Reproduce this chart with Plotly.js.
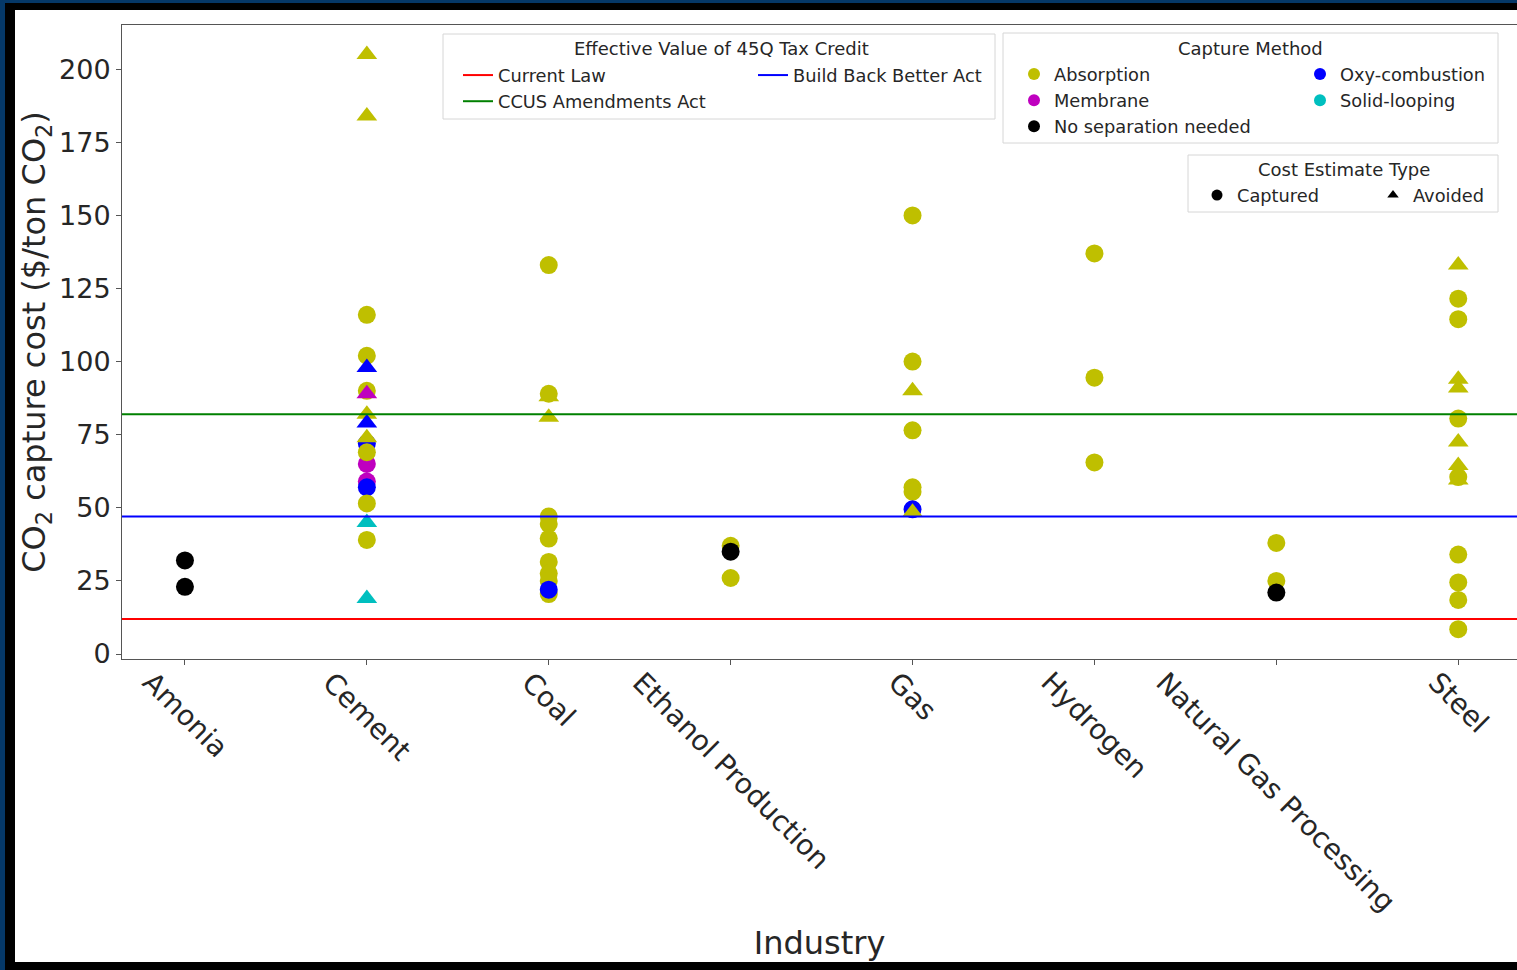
<!DOCTYPE html>
<html>
<head>
<meta charset="utf-8">
<script src="https://cdn.plot.ly/plotly-3.0.1.min.js"></script>
<style>
  html, body { margin: 0; padding: 0; width: 1517px; height: 970px; overflow: hidden; background: #053868; }
  #frame { position: absolute; left: 5px; top: 3px; width: 1512px; height: 967px; background: #000; }
  #chart { position: absolute; left: 15px; top: 10px; width: 1502px; height: 952px; background: #fff; }
</style>
</head>
<body>
<div id="frame"></div>
<div id="chart"></div>
<script>
// ---------------- data ----------------
const industries = ["Amonia", "Cement", "Coal", "Ethanol Production", "Gas", "Hydrogen", "Natural Gas Processing", "Steel"];

// one entry per plotted point (drawing order = array order)
const ptIndustry = [
  "Amonia", "Amonia",
  "Cement", "Cement", "Cement", "Cement", "Cement", "Cement", "Cement", "Cement", "Cement",
  "Cement", "Cement", "Cement", "Cement", "Cement", "Cement", "Cement", "Cement", "Cement", "Cement",
  "Coal", "Coal", "Coal", "Coal", "Coal", "Coal", "Coal", "Coal", "Coal", "Coal", "Coal", "Coal",
  "Ethanol Production", "Ethanol Production", "Ethanol Production",
  "Gas", "Gas", "Gas", "Gas", "Gas", "Gas", "Gas", "Gas",
  "Hydrogen", "Hydrogen", "Hydrogen",
  "Natural Gas Processing", "Natural Gas Processing", "Natural Gas Processing",
  "Steel", "Steel", "Steel", "Steel", "Steel", "Steel", "Steel", "Steel", "Steel", "Steel",
  "Steel", "Steel", "Steel", "Steel"
];
const ptValue = [
  32, 23,
  205, 184, 116, 102, 90, 98, 89, 82, 79,
  72, 65, 74, 69, 59, 57, 51.5, 45, 39, 19,
  133, 88, 89, 81, 47, 44.5, 39.5, 31.5, 27.5, 25, 20.5, 22,
  37, 26, 35,
  150, 100, 90, 76.5, 57, 55.5, 49.5, 48.5,
  137, 94.5, 65.5,
  38, 25, 21,
  133, 121.5, 114.5, 94, 91, 80.5, 72.5, 64.5, 60.5, 59.5,
  34, 24.5, 18.5, 8.5
];
const ptMethod = [
  "No separation needed", "No separation needed",
  "Absorption", "Absorption", "Absorption", "Absorption", "Absorption", "Oxy-combustion", "Membrane", "Absorption", "Oxy-combustion",
  "Oxy-combustion", "Membrane", "Absorption", "Absorption", "Membrane", "Oxy-combustion", "Absorption", "Solid-looping", "Absorption", "Solid-looping",
  "Absorption", "Absorption", "Absorption", "Absorption", "Absorption", "Absorption", "Absorption", "Absorption", "Absorption", "Absorption", "Absorption", "Oxy-combustion",
  "Absorption", "Absorption", "No separation needed",
  "Absorption", "Absorption", "Absorption", "Absorption", "Absorption", "Absorption", "Oxy-combustion", "Absorption",
  "Absorption", "Absorption", "Absorption",
  "Absorption", "Absorption", "No separation needed",
  "Absorption", "Absorption", "Absorption", "Absorption", "Absorption", "Absorption", "Absorption", "Absorption", "Absorption", "Absorption",
  "Absorption", "Absorption", "Absorption", "Absorption"
];
const ptType = [
  "Captured", "Captured",
  "Avoided", "Avoided", "Captured", "Captured", "Captured", "Avoided", "Avoided", "Avoided", "Avoided",
  "Captured", "Captured", "Avoided", "Captured", "Captured", "Captured", "Captured", "Avoided", "Captured", "Avoided",
  "Captured", "Avoided", "Captured", "Avoided", "Captured", "Captured", "Captured", "Captured", "Captured", "Captured", "Captured", "Captured",
  "Captured", "Captured", "Captured",
  "Captured", "Captured", "Avoided", "Captured", "Captured", "Captured", "Captured", "Avoided",
  "Captured", "Captured", "Captured",
  "Captured", "Captured", "Captured",
  "Avoided", "Captured", "Captured", "Avoided", "Avoided", "Captured", "Avoided", "Avoided", "Captured", "Avoided",
  "Captured", "Captured", "Captured", "Captured"
];

const methods = ["Absorption", "Membrane", "No separation needed", "Oxy-combustion", "Solid-looping"];
const methodColors = ["#bfbf00", "#bf00bf", "#000000", "#0000ff", "#00bfbf"];
const estimateTypes = ["Captured", "Avoided"];
const typeSymbols = ["circle", "triangle-up"];

const creditNames = ["Current Law", "CCUS Amendments Act", "Build Back Better Act"];
const creditValues = [12, 82, 47];
const creditColors = ["#ff0000", "#008000", "#0000ff"];

// ---------------- helpers ----------------
const PLOT_L = 122, PLOT_W = 1395, PLOT_B = 659, PLOT_H = 634; // page px
const px = v => (v - PLOT_L) / PLOT_W;
const py = v => (PLOT_B - v) / PLOT_H;
const FONT = "DejaVu Sans, Arial, sans-serif";
const TXT = "#262626";

// ---------------- traces ----------------
const traces = [];
traces.push({
  type: "scatter", mode: "markers",
  x: ptIndustry, y: ptValue,
  marker: {
    color: ptMethod.map(m => methodColors[methods.indexOf(m)]),
    symbol: ptType.map(t => typeSymbols[estimateTypes.indexOf(t)]),
    size: 18, opacity: 1,
    line: { width: 0 }
  },
  showlegend: false, hoverinfo: "x+y"
});

// legend-only entries for Capture Method
const methodLegend = { "Absorption": "legend3", "Membrane": "legend3", "No separation needed": "legend3", "Oxy-combustion": "legend4", "Solid-looping": "legend4" };
methods.forEach((m, i) => traces.push({
  type: "scatter", mode: "markers", x: [null], y: [null], name: m,
  marker: { color: methodColors[i], symbol: "circle", size: 12, opacity: 1 },
  legend: methodLegend[m], showlegend: true, hoverinfo: "skip"
}));
// legend-only entries for Cost Estimate Type
estimateTypes.forEach((t, i) => traces.push({
  type: "scatter", mode: "markers", x: [null], y: [null], name: t,
  marker: { color: "#000000", symbol: typeSymbols[i], size: i === 0 ? 11 : 10, opacity: 1 },
  legend: i === 0 ? "legend5" : "legend6", showlegend: true, hoverinfo: "skip"
}));

// ---------------- shapes ----------------
const shapes = [];
creditNames.forEach((n, i) => shapes.push({
  type: "line", xref: "paper", x0: 0, x1: 1, yref: "y", y0: creditValues[i], y1: creditValues[i],
  line: { color: creditColors[i], width: 2 }, layer: "above",
  name: n, showlegend: true, legend: i < 2 ? "legend" : "legend2"
}));
const boxes = [
  [443, 995, 34, 119],
  [1003, 1498, 33, 143],
  [1188, 1498, 155, 212]
];
boxes.forEach(b => shapes.push({
  type: "rect", xref: "paper", yref: "paper",
  x0: px(b[0]), x1: px(b[1]), y0: py(b[3]), y1: py(b[2]),
  line: { color: "#d6d6d6", width: 1 }, fillcolor: "rgba(255,255,255,0.85)", layer: "above"
}));

// ---------------- annotations ----------------
const annotations = [];
// category labels (rotated, centered on tick like matplotlib)
industries.forEach(c => annotations.push({
  xref: "x", x: c, yref: "paper", y: py(663), text: c, showarrow: false,
  textangle: 45, xanchor: "center", yanchor: "top",
  font: { family: FONT, size: 28, color: TXT }
}));
// legend titles
const legTitles = [
  ["Effective Value of 45Q Tax Credit", 721, 49],
  ["Capture Method", 1250, 48],
  ["Cost Estimate Type", 1344, 169]
];
legTitles.forEach(t => annotations.push({
  xref: "paper", yref: "paper", x: px(t[1]), y: py(t[2]), text: t[0], showarrow: false,
  xanchor: "center", yanchor: "middle", font: { family: FONT, size: 18, color: TXT }
}));

// ---------------- legends ----------------
const legBase = {
  orientation: "v", xanchor: "left", yanchor: "top", bgcolor: "rgba(0,0,0,0)", borderwidth: 0,
  font: { family: FONT, size: 17.8, color: TXT }, tracegroupgap: 0, itemclick: false, itemdoubleclick: false
};
const leg = (xPage, yPage) => Object.assign({}, legBase, { x: px(xPage), y: py(yPage) });

const layout = {
  width: 1502, height: 952,
  margin: { l: 107, r: 0, t: 15, b: 303, pad: 0 },
  paper_bgcolor: "#ffffff", plot_bgcolor: "#ffffff",
  font: { family: FONT, color: TXT },
  xaxis: {
    type: "category", categoryorder: "array", categoryarray: industries,
    range: [-0.346, 7.323], showticklabels: false,
    ticks: "outside", ticklen: 5, tickwidth: 1, tickcolor: "#555",
    showline: true, linecolor: "#555", linewidth: 1, mirror: true,
    showgrid: false, zeroline: false, automargin: false,
    title: { text: "Industry", font: { family: FONT, size: 32, color: TXT }, standoff: 274 }
  },
  yaxis: {
    range: [-1.7, 215.1], tick0: 0, dtick: 25,
    ticks: "outside", ticklen: 5, tickwidth: 1, tickcolor: "#555",
    tickfont: { family: FONT, size: 27, color: TXT },
    showline: true, linecolor: "#555", linewidth: 1, mirror: false,
    showgrid: false, zeroline: false, automargin: false,
    title: { text: "CO<sub>2</sub> capture cost ($/ton CO<sub>2</sub>)", font: { family: FONT, size: 32, color: TXT }, standoff: 8 }
  },
  shapes: shapes,
  annotations: annotations,
  legend: leg(458, 57),
  legend2: leg(753, 57),
  legend3: leg(1014, 56),
  legend4: leg(1300, 56),
  legend5: leg(1197, 177),
  legend6: leg(1373, 177),
  showlegend: true
};

Plotly.newPlot("chart", traces, layout, { displayModeBar: false, staticPlot: false });
</script>
</body>
</html>
